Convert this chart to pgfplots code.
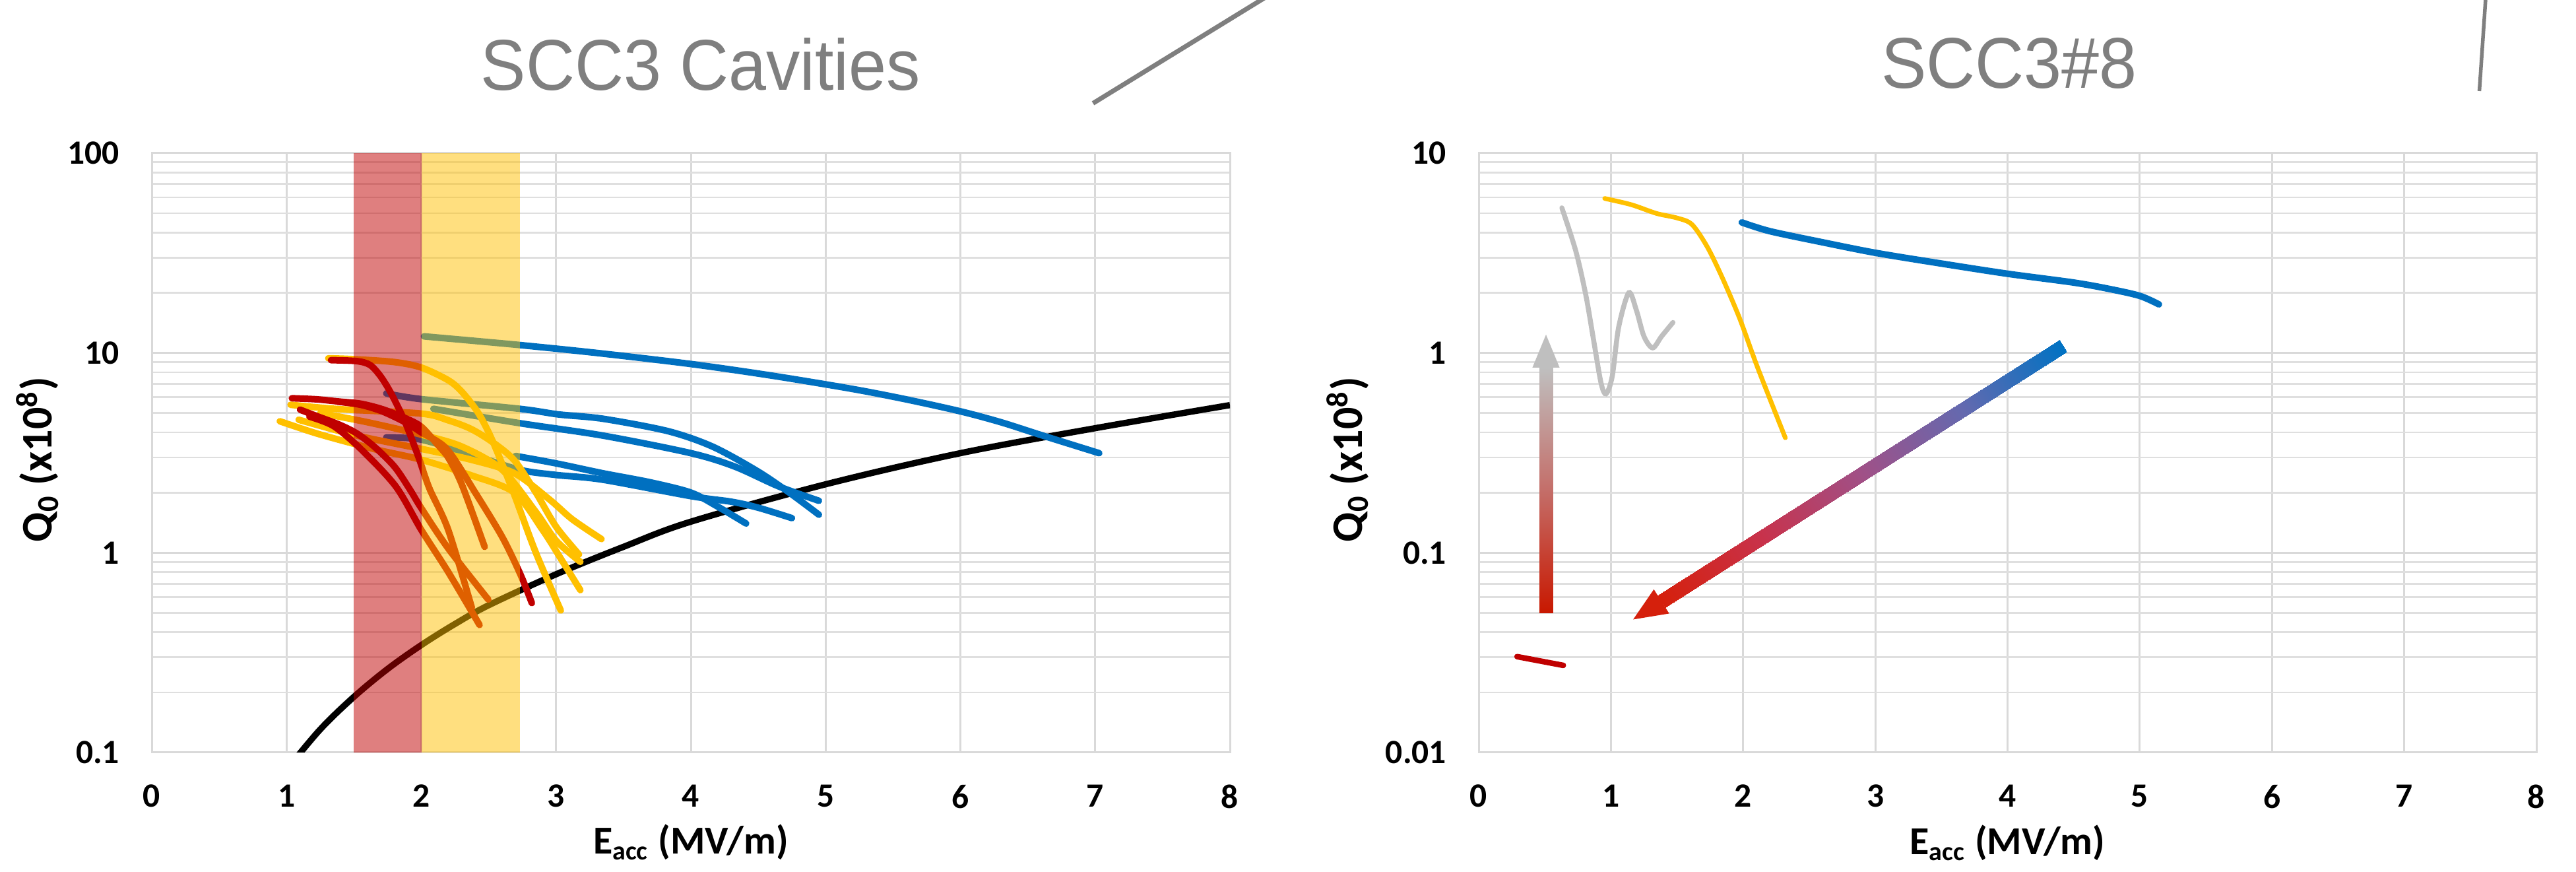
\documentclass[border=0pt]{standalone}
\usepackage{fontspec}
\setmainfont{Carlito}
\newfontfamily\titlefont{Liberation Sans}
\usepackage{pgfplots}
\pgfplotsset{compat=1.18}
\definecolor{cblue}{HTML}{0070C0}
\definecolor{cyel}{HTML}{FFC000}
\definecolor{cred}{HTML}{C00000}
\definecolor{cgray}{HTML}{BFBFBF}
\definecolor{gridc}{HTML}{D9D9D9}
\definecolor{titlec}{HTML}{7F7F7F}
\definecolor{ared}{HTML}{D5200C}
\pgfplotsset{
  myaxis/.style={
    scale only axis, height=181.6pt, clip mode=individual,
    xmin=0, xmax=8,
    xtick={0,1,2,3,4,5,6,7,8}, xticklabels={0,1,2,3,4,5,6,7,8},
    major tick length=0pt, minor tick length=0pt,
    xmajorgrids, ymajorgrids, yminorgrids,
    major grid style={draw=gridc, line width=0.6pt},
    minor grid style={draw=gridc!85, line width=0.55pt},
    axis line style={draw=gridc, line width=0.6pt},
    ticklabel style={font=\bfseries\fontsize{10.3}{11}\selectfont},
    yticklabel style={anchor=east, inner sep=0pt, xshift=-9.6pt},
    xticklabel style={anchor=north, inner sep=0pt, yshift=-9.6pt},
  },
  cur/.style={line width=2.0pt, smooth, tension=0.5, line cap=round, line join=round},
}
\begin{document}
\begin{tikzpicture}
\useasboundingbox (0pt,0pt) rectangle (780.8pt,264.2pt);
% titles and decorations
\node[anchor=base, text=titlec, inner sep=0pt] at (212.4pt,236.8pt) {\scalebox{0.94}[1]{\titlefont\fontsize{21.8}{22}\selectfont SCC3 Cavities}};
\node[anchor=base, text=titlec, inner sep=0pt] at (609pt,237.4pt) {\scalebox{0.94}[1]{\titlefont\fontsize{21.8}{22}\selectfont SCC3\#8}};
\draw[titlec, line width=1.4pt] (331.3pt,232.9pt) -- (386pt,266.5pt);
\draw[titlec, line width=1.1pt] (751.5pt,236.6pt) -- (753.5pt,266pt);

% ---------------- left axis ----------------
\begin{axis}[ymode=log, myaxis, at={(46pt,36.2pt)}, anchor=south west, width=326.8pt,
  ymin=0.1, ymax=100,
  ytick={0.1,1,10,100}, yticklabels={0.1,1,10,100},
  minor ytick={0.2,0.3,0.4,0.5,0.6,0.7,0.8,0.9,2,3,4,5,6,7,8,9,20,30,40,50,60,70,80,90},
]
% black curve
\addplot[black, line width=1.9pt, smooth, tension=0.55] coordinates {
(1.0,0.082) (1.25,0.1305) (1.5,0.19) (1.75,0.262) (2.0,0.345) (2.25,0.44) (2.5,0.546) (3.0,0.78) (3.5,1.07) (4.0,1.43) (5.0,2.2) (6.0,3.15) (7.0,4.2) (8.0,5.48)};
% blue curves
\addplot[cblue, cur] coordinates {(2.02,12.1) (2.7,11.0) (3.3,10.0) (4.0,8.8) (4.6,7.7) (5.2,6.6) (5.6,5.85) (6.0,5.1) (6.3,4.5) (6.61,3.86) (7.03,3.15)};
\addplot[cblue, cur] coordinates {(1.74,6.27) (2.0,5.87) (2.73,5.25) (3.02,4.92) (3.35,4.68) (3.83,4.06) (4.16,3.40) (4.49,2.57) (4.73,2.0) (4.95,1.55)};
\addplot[cblue, cur] coordinates {(2.09,5.25) (2.73,4.45) (3.345,3.86) (4.0,3.15) (4.325,2.70) (4.65,2.15) (4.95,1.82)};
\addplot[cblue, cur] coordinates {(2.70,3.05) (3.0,2.8) (3.345,2.5) (3.7,2.25) (4.0,2.0) (4.2,1.7) (4.41,1.40)};
\addplot[cblue, cur] coordinates {(1.74,3.78) (2.0,3.68) (2.37,3.1) (2.73,2.6) (3.0,2.45) (3.345,2.32) (4.0,1.92) (4.3,1.80) (4.5,1.68) (4.75,1.49)};
% yellow curves
\addplot[cyel, cur] coordinates {(1.31,9.4) (1.5,9.3) (1.8,9.0) (2.0,8.45) (2.2,7.3) (2.3,6.4) (2.415,5.1) (2.5,4.0) (2.58,3.0) (2.69,1.95) (2.85,1.0) (3.035,0.514)};
\addplot[cyel, cur] coordinates {(1.03,5.5) (1.39,5.23) (2.0,4.97) (2.2,4.6) (2.37,4.16) (2.53,3.57) (2.69,2.9) (2.85,2.0) (3.0,1.35) (3.17,0.98)};
\addplot[cyel, cur] coordinates {(0.95,4.55) (1.22,3.96) (1.52,3.48) (1.71,3.23) (2.0,2.92) (2.37,2.44) (2.69,2.0) (2.9,1.3) (3.05,0.9) (3.18,0.65)};
\addplot[cyel, cur] coordinates {(1.09,4.63) (1.52,3.86) (2.0,3.31) (2.37,2.92) (2.69,2.5) (2.95,1.85) (3.12,1.47) (3.337,1.17)};
\addplot[cyel, cur] coordinates {(1.25,5.0) (1.6,4.5) (2.0,3.9) (2.3,3.4) (2.6,2.6) (2.85,1.6) (3.0,1.15) (3.18,0.90)};
% red curves
\addplot[cred, cur] coordinates {(1.33,9.2) (1.52,9.1) (1.62,8.7) (1.70,7.6) (1.78,6.2) (1.88,4.5) (1.98,3.0) (2.06,2.1) (2.2,1.3) (2.375,0.53)};
\addplot[cred, cur] coordinates {(1.04,5.93) (1.22,5.86) (1.39,5.71) (1.55,5.57) (1.71,5.23) (1.88,4.72) (2.0,4.27) (2.12,3.48) (2.2,2.99) (2.3,2.2) (2.47,1.07)};
\addplot[cred, cur] coordinates {(1.38,5.7) (1.55,5.5) (1.71,5.1) (1.88,4.5) (2.0,4.0) (2.19,3.3) (2.4,2.0) (2.6,1.2) (2.735,0.78) (2.82,0.56)};
\addplot[cred, cur] coordinates {(1.10,5.2) (1.22,4.84) (1.39,4.38) (1.52,3.96) (1.65,3.4) (1.8,2.7) (1.91,2.1) (2.0,1.67) (2.2,1.05) (2.497,0.583)};
\addplot[cred, cur] coordinates {(1.17,4.8) (1.35,4.3) (1.55,3.31) (1.81,2.15) (2.0,1.30) (2.2,0.8) (2.432,0.435)};
% translucent bands
\addplot[draw=none, fill=cred, fill opacity=0.5] coordinates {(1.5,0.1) (2.0,0.1) (2.0,100) (1.5,100)} -- cycle;
\addplot[draw=none, fill=cyel, fill opacity=0.5] coordinates {(2.0,0.1) (2.73,0.1) (2.73,100) (2.0,100)} -- cycle;
\node[rotate=90, font=\bfseries\fontsize{13.2}{14}\selectfont] at (axis description cs:-0.106,0.489) {Q\textsubscript{0} (x10\textsuperscript{8})};
\node[anchor=base, font=\bfseries\fontsize{12}{13}\selectfont, inner sep=0pt] at (axis description cs:0.5,-0.1696) {E\textsubscript{acc} (MV/m)};
\end{axis}

% ---------------- right axis ----------------
\begin{axis}[ymode=log, myaxis, at={(448.2pt,36.2pt)}, anchor=south west, width=320.6pt,
  ymin=0.01, ymax=10,
  ytick={0.01,0.1,1,10}, yticklabels={0.01,0.1,1,10},
  minor ytick={0.02,0.03,0.04,0.05,0.06,0.07,0.08,0.09,0.2,0.3,0.4,0.5,0.6,0.7,0.8,0.9,2,3,4,5,6,7,8,9},
  point meta min=0, point meta max=1,
]
\addplot[cgray, line width=1.5pt, smooth, tension=0.5, line cap=round] coordinates {
(0.629,5.32) (0.734,3.24) (0.81,1.95) (0.867,1.18) (0.925,0.708) (0.963,0.624) (1.01,0.764) (1.058,1.34) (1.135,2.0) (1.192,1.64) (1.25,1.21) (1.316,1.06) (1.383,1.21) (1.469,1.42)};
\addplot[cyel, line width=1.4pt, smooth, tension=0.5, line cap=round] coordinates {
(0.953,5.93) (1.154,5.52) (1.345,4.99) (1.498,4.74) (1.612,4.40) (1.727,3.41) (1.841,2.39) (1.975,1.48) (2.109,0.846) (2.319,0.376)};
\addplot[cblue, line width=2.0pt, smooth, tension=0.5, line cap=round] coordinates {
(1.99,4.5) (2.2,4.07) (2.59,3.59) (3.0,3.17) (3.5,2.8) (4.0,2.49) (4.5,2.25) (4.77,2.09) (5.0,1.93) (5.145,1.75)};
\addplot[cred, line width=1.7pt, line cap=round] coordinates {(0.29,0.0302) (0.64,0.0273)};
% vertical gradient arrow
\addplot[patch, patch type=rectangle, shader=interp, point meta=explicit,
  colormap={vgr}{rgb255=(200,24,0) rgb255=(196,110,105) rgb255=(191,191,191)}] coordinates {
  (0.457,0.05) [0] (0.561,0.05) [0] (0.561,0.844) [1] (0.457,0.844) [1]};
\addplot[draw=none, fill=cgray] coordinates {(0.406,0.844) (0.612,0.844) (0.509,1.235)} -- cycle;
% diagonal gradient arrow
\addplot[patch, patch type=rectangle, shader=interp, point meta=explicit,
  colormap={dgr}{rgb255=(213,32,12) rgb255=(200,50,75) rgb255=(160,80,135) rgb255=(100,105,175) rgb255=(0,114,195)}] coordinates {
  (1.411,0.0533) [0] (4.448,1.009) [1] (4.3907,1.157) [1] (1.3543,0.06104) [0]};
\addplot[draw=none, fill=ared] coordinates {(1.411,0.0533) (1.4406,0.04962) (1.1682,0.04634) (1.3248,0.06556) (1.3543,0.06104)} -- cycle;
\node[rotate=90, font=\bfseries\fontsize{13.2}{14}\selectfont] at (axis description cs:-0.124,0.489) {Q\textsubscript{0} (x10\textsuperscript{8})};
\node[anchor=base, font=\bfseries\fontsize{12}{13}\selectfont, inner sep=0pt] at (axis description cs:0.5,-0.1696) {E\textsubscript{acc} (MV/m)};
\end{axis}
\end{tikzpicture}
\end{document}
